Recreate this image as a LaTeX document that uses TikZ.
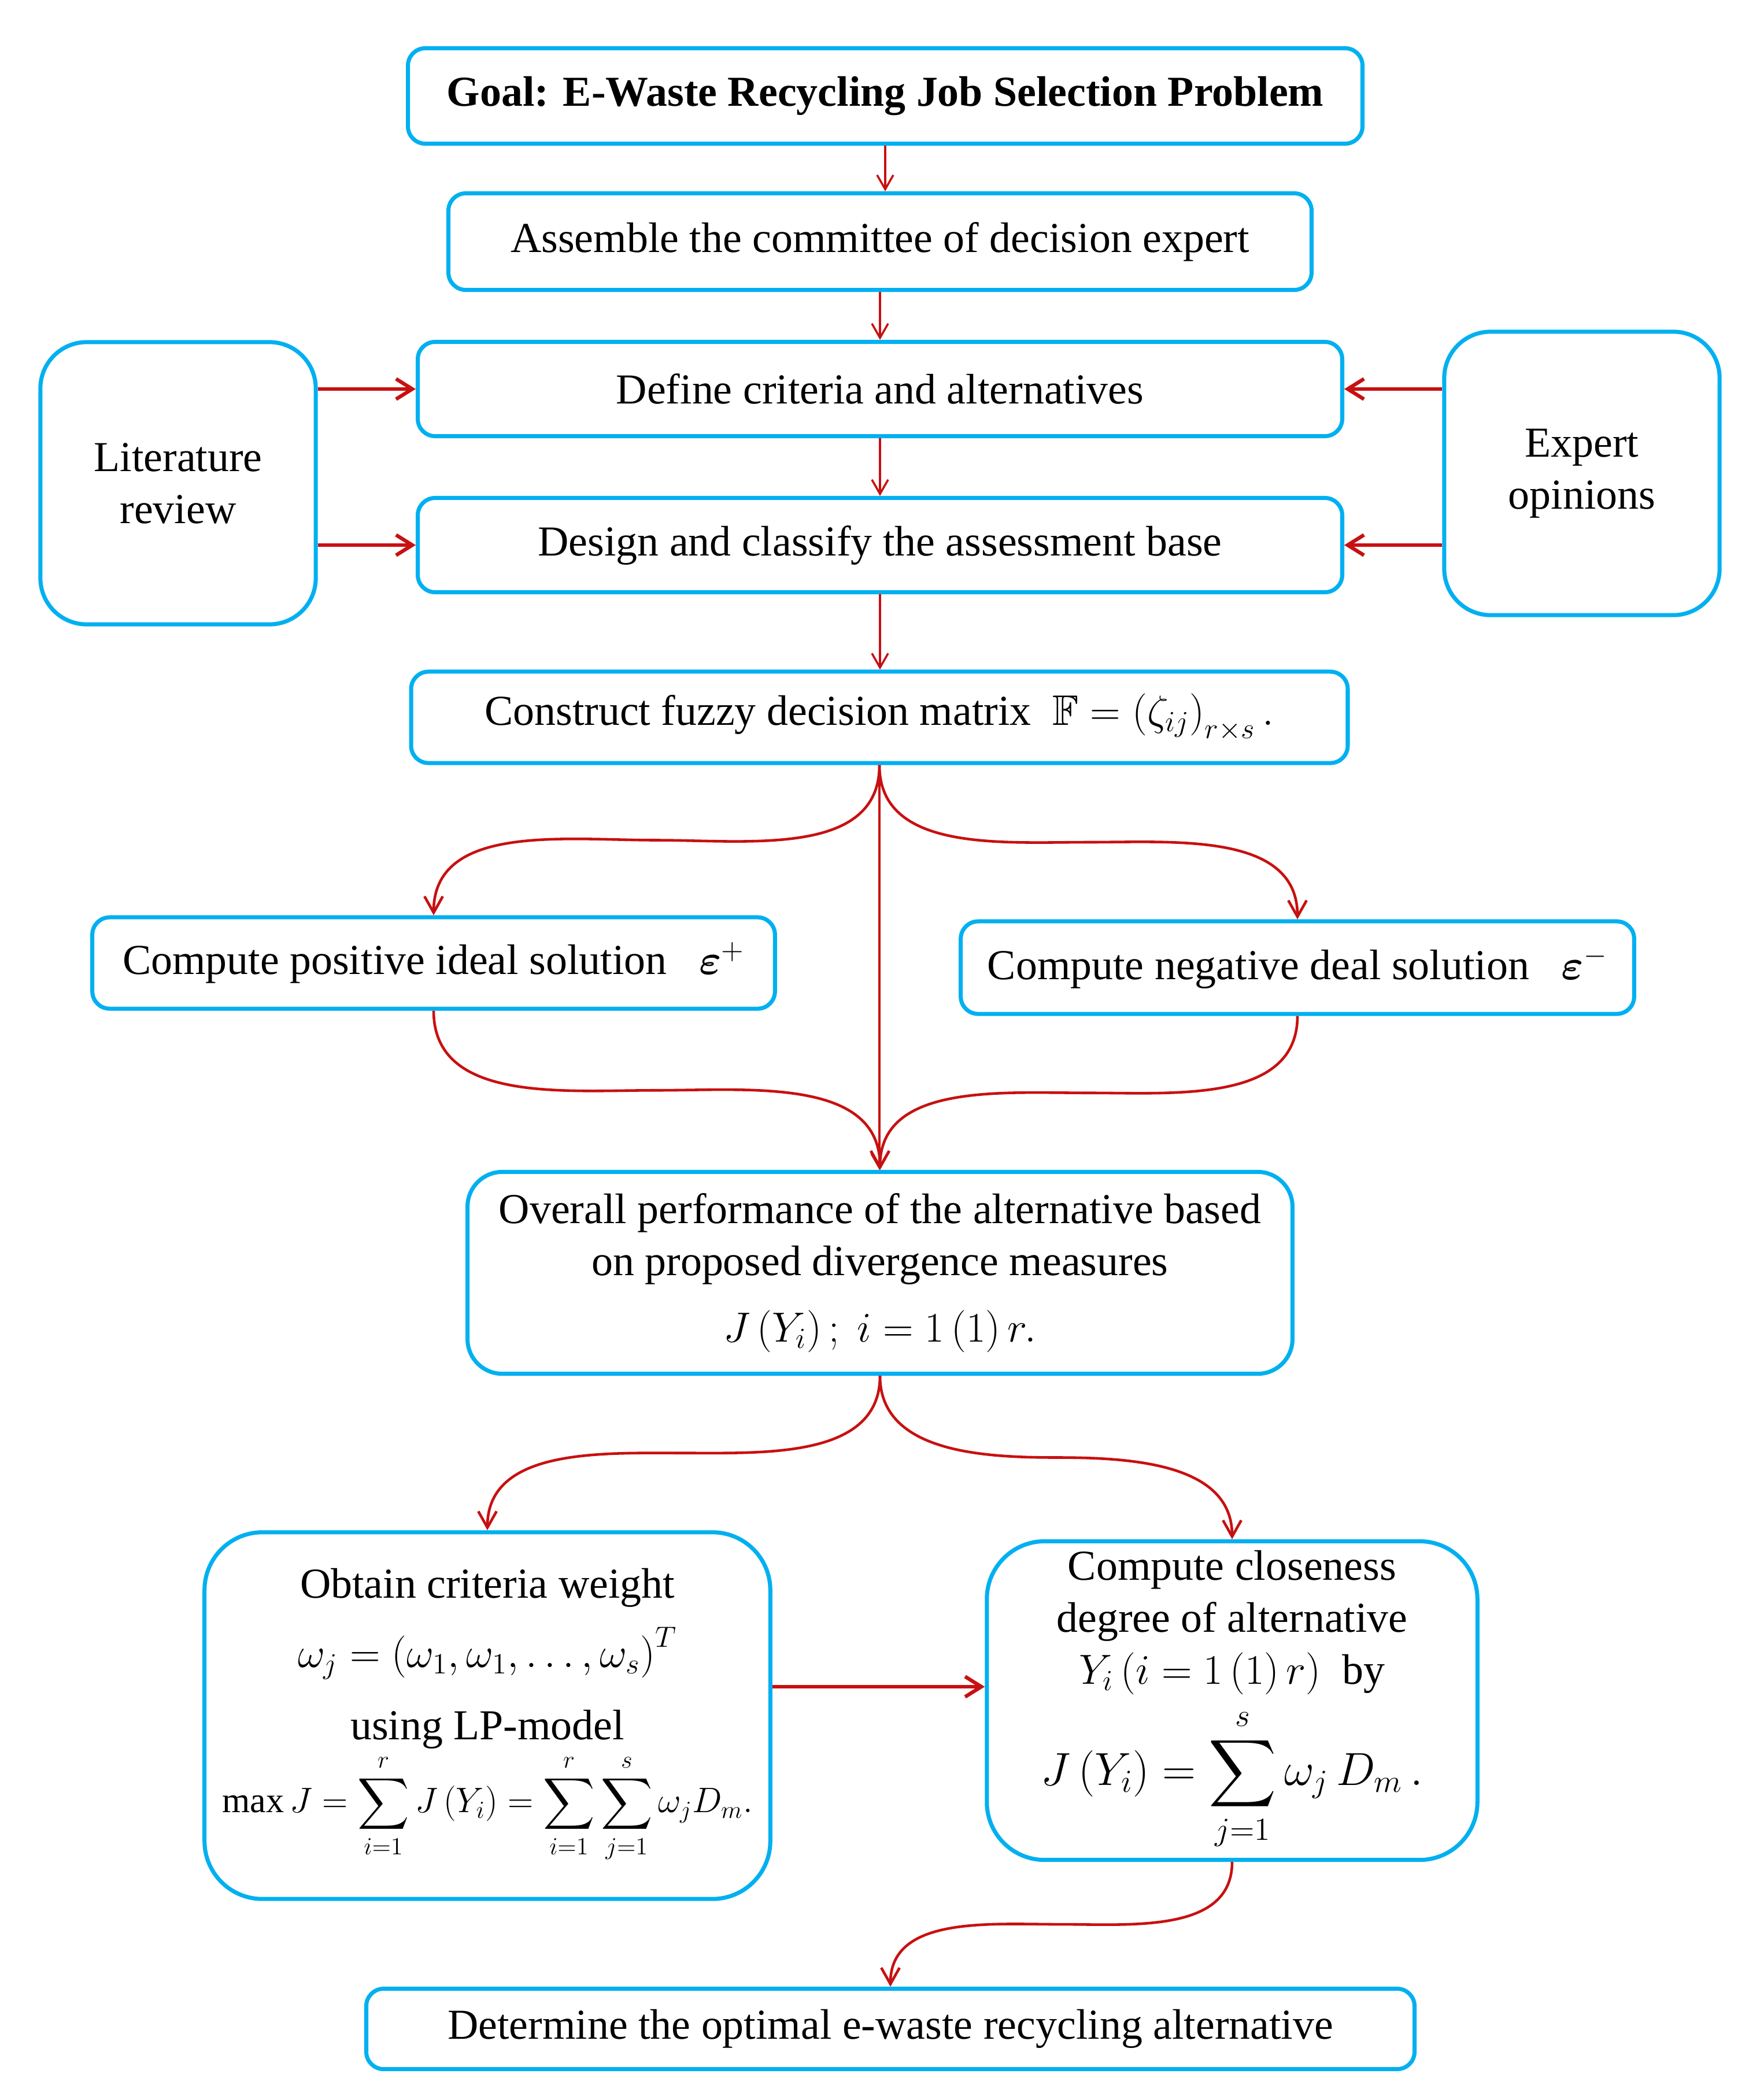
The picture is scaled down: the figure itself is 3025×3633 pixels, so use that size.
\documentclass[tikz,border=0pt]{standalone}
\usepackage{amsmath,amssymb}
\usepackage{fontspec}
\setmainfont{Liberation Serif}
\usetikzlibrary{arrows.meta,calc}
\definecolor{boxblue}{RGB}{0,176,240}
\definecolor{arrred}{RGB}{200,16,16}
\begin{document}
\begin{tikzpicture}[x=0.01cm,y=-0.01cm,
  every node/.style={font=\fontsize{21}{25.6}\selectfont},
  box/.style={draw=boxblue,line width=2pt,rounded corners=0.3cm,fill=white,align=center,inner sep=0pt},
  bigbox/.style={box,rounded corners=1cm},
  sidebox/.style={box,rounded corners=0.8cm},
  arr/.style={draw=arrred,line width=1pt,-{Straight Barb[length=7pt,width=8pt]}},
  carr/.style={draw=arrred,line width=1.3pt,-{Straight Barb[length=8pt,width=9pt]}},
  sarr/.style={draw=arrred,line width=1.8pt,-{Straight Barb[length=8pt,width=10pt]}}]
\useasboundingbox (0,0) rectangle (3025,3633);
\node[box,minimum width=16.5cm,minimum height=1.65cm] (goal) at (1531,166) {\textbf{Goal: E-Waste Recycling Job Selection Problem}};
\node[box,minimum width=14.92cm,minimum height=1.67cm] (asm) at (1522,418) {Assemble the committee of decision expert};
\node[box,minimum width=15.98cm,minimum height=1.63cm] (def) at (1522,673) {Define criteria and alternatives};
\node[box,minimum width=15.98cm,minimum height=1.63cm] (des) at (1522,943) {Design and classify the assessment base};
\node[sidebox,minimum width=4.76cm,minimum height=4.88cm] (lit) at (308,836) {Literature\\review};
\node[sidebox,minimum width=4.76cm,minimum height=4.9cm] (exp) at (2736,819) {Expert\\opinions};
\node[box,minimum width=16.19cm,minimum height=1.58cm] (con) at (1521,1241) {Construct fuzzy decision matrix\ \ $\mathbb{F}=\left(\zeta_{ij}\right)_{r\times s}.$};
\node[box,minimum width=11.8cm,minimum height=1.58cm] (pos) at (750,1666) {Compute positive ideal solution\ \ \ $\boldsymbol{\varepsilon}^{+}$};
\node[box,minimum width=11.64cm,minimum height=1.6cm] (neg) at (2244,1674) {Compute negative deal solution\ \ \ $\boldsymbol{\varepsilon}^{-}$};
\node[box,minimum width=14.26cm,minimum height=3.49cm,rounded corners=0.6cm] (ovr) at (1522,2202) {Overall performance of the alternative based\\on proposed divergence measures\\[0.25cm] $J\left(Y_i\right);\ i=1\left(1\right)r.$};
\node[bigbox,minimum width=9.78cm,minimum height=6.34cm] (obt) at (843,2968) {Obtain criteria weight\\[0.3cm] $\omega_j=\left(\omega_1,\omega_1,\dots,\omega_s\right)^{T}$\\[0.35cm] using LP-model\\[0.05cm] \scalebox{0.84}{$\displaystyle \max J=\sum_{i=1}^{r}J\left(Y_i\right)=\sum_{i=1}^{r}\sum_{j=1}^{s}\omega_j D_m.$}};
\node[bigbox,minimum width=8.48cm,minimum height=5.51cm] (clo) at (2131,2942) {Compute closeness\\degree of alternative\\ $Y_i\left(i=1\left(1\right)r\right)$\ \ by\\[0.2cm] \scalebox{1.1}{$\displaystyle J\left(Y_i\right)=\sum_{j=1}^{s}\omega_j\,D_m\,.$}};
\node[box,minimum width=18.12cm,minimum height=1.39cm] (det) at (1540,3510) {Determine the optimal e-waste recycling alternative};
% straight arrows
\draw[arr] (goal.south) -- (goal.south |- asm.north);
\draw[arr] (asm.south) -- (asm.south |- def.north);
\draw[arr] (def.south) -- (def.south |- des.north);
\draw[arr] (des.south) -- (des.south |- con.north);
\draw[sarr] (lit.east |- def.west) -- (def.west);
\draw[sarr] (lit.east |- des.west) -- (des.west);
\draw[sarr] (exp.west |- def.east) -- (def.east);
\draw[sarr] (exp.west |- des.east) -- (des.east);
\draw[arr] (con.south) -- (con.south |- ovr.north);
% curved arrows
\draw[carr] (con.south) to[out=-90,in=0] ($(con.south)!0.5!(pos.north)$) to[out=180,in=90] (pos.north);
\draw[carr] (con.south) to[out=-90,in=180] ($(con.south)!0.5!(neg.north)$) to[out=0,in=90] (neg.north);
\draw[carr] (pos.south) to[out=-90,in=180] ($(pos.south)!0.5!(ovr.north)$) to[out=0,in=90] (ovr.north);
\draw[carr] (neg.south) to[out=-90,in=0] ($(neg.south)!0.5!(ovr.north)$) to[out=180,in=90] (ovr.north);
\draw[carr] (ovr.south) to[out=-90,in=0] ($(ovr.south)!0.5!(obt.north)$) to[out=180,in=90] (obt.north);
\draw[carr] (ovr.south) to[out=-90,in=180] ($(ovr.south)!0.5!(clo.north)$) to[out=0,in=90] (clo.north);
\draw[carr] (clo.south) to[out=-90,in=0] ($(clo.south)!0.5!(det.north)$) to[out=180,in=90] (det.north);
\coordinate (h1) at ([yshift=0.5cm]obt.east);
\draw[sarr] (h1) -- (h1 -| clo.west);
\end{tikzpicture}
\end{document}
